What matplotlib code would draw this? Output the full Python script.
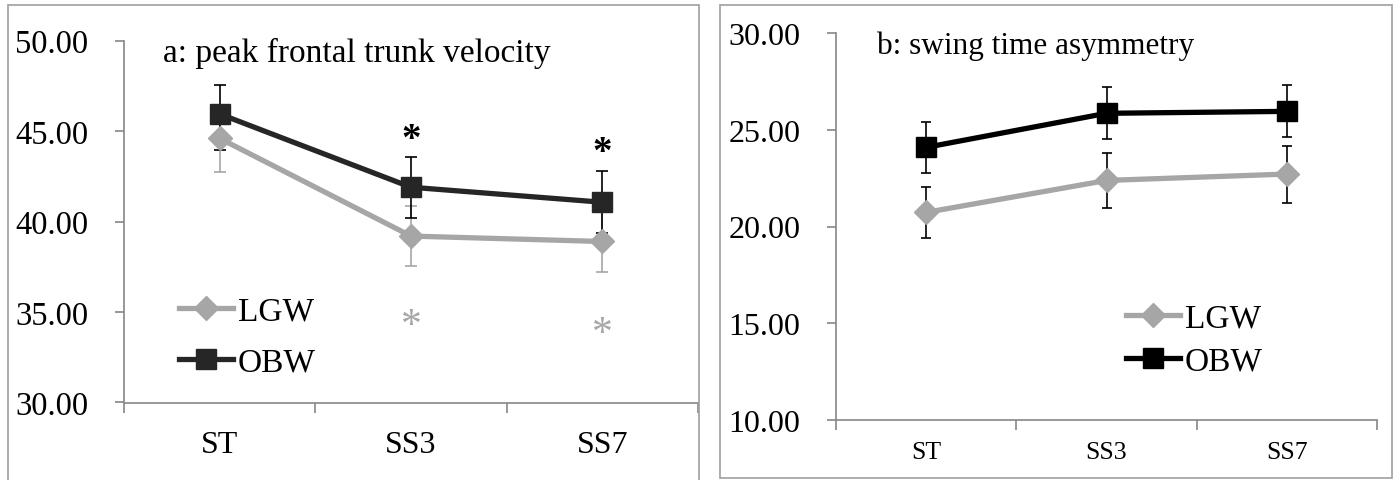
import matplotlib
matplotlib.use("Agg")
import matplotlib.pyplot as plt
from matplotlib.patches import Rectangle
from matplotlib.ticker import FixedLocator, FormatStrFormatter

plt.rcParams['font.family'] = ['Liberation Serif', 'DejaVu Serif']

# data
conditions = ['ST', 'SS3', 'SS7']

# a: peak frontal trunk velocity
a_lgw = [44.6, 39.2, 38.9]
a_lgw_err = [1.85, 1.67, 1.66]
a_obw = [45.95, 41.9, 41.07]
a_obw_err_lo = [2.0, 1.68, 1.72]
a_obw_err_hi = [1.6, 1.68, 1.72]
a_star_obw = [None, 45.1, 44.35]   # black asterisks
a_star_lgw = [None, 34.95, 34.5]   # grey asterisks

# b: swing time asymmetry
b_lgw = [20.73, 22.38, 22.71]
b_lgw_err = [1.33, 1.43, 1.47]
b_obw = [24.09, 25.85, 25.95]
b_obw_err = [1.33, 1.35, 1.35]

GREY = '#a6a6a6'
AXIS = '#868686'
W, H = 1398, 481

fig = plt.figure(figsize=(W / 100, H / 100), dpi=100)

# outer chart frames (pixel boxes of the two excel charts)
fig.patches.append(Rectangle((8 / W, -0.02), 690.5 / W, 1.02 - 6 / H, transform=fig.transFigure,
                             fill=False, edgecolor='#a0a0a0', lw=1.2))
fig.patches.append(Rectangle((720 / W, 1 - 479 / H), 672 / W, 473 / H, transform=fig.transFigure,
                             fill=False, edgecolor='#a0a0a0', lw=1.2))

ax1 = fig.add_axes([124 / W, 1 - 403.5 / H, 574 / W, 361.8 / H])
ax2 = fig.add_axes([836 / W, 1 - 421 / H, 541 / W, 387 / H])


def style_axes(ax, ylo, yhi, ytick_size, xtick_size, xpad):
    x = range(len(conditions))
    ax.set_xlim(-0.5, len(conditions) - 0.5)
    ax.set_ylim(ylo, yhi)
    ax.set_yticks(range(ylo, yhi + 1, 5))
    ax.yaxis.set_major_formatter(FormatStrFormatter('%.2f'))
    ax.set_xticks(list(x))
    ax.set_xticklabels(conditions)
    ax.xaxis.set_minor_locator(FixedLocator([i - 0.5 for i in range(len(conditions) + 1)]))
    ax.tick_params(axis='x', which='major', length=0, labelsize=xtick_size, pad=xpad)
    ax.tick_params(axis='x', which='minor', length=7, width=1.2, color=AXIS, direction='out')
    ax.tick_params(axis='y', length=6.5, width=1.2, color=AXIS, labelsize=ytick_size, pad=19)
    for s in ['top', 'right']:
        ax.spines[s].set_visible(False)
    for s in ['left', 'bottom']:
        ax.spines[s].set_color(AXIS)
        ax.spines[s].set_linewidth(1.2)
    ax.patch.set_alpha(0)


x = list(range(len(conditions)))

# panel a
ax1.errorbar(x, a_lgw, yerr=a_lgw_err, fmt='none', ecolor=GREY, elinewidth=1.2, capsize=4, capthick=1.2, zorder=2)
ax1.errorbar(x, a_obw, yerr=[a_obw_err_lo, a_obw_err_hi], fmt='none', ecolor='black', elinewidth=1.2,
             capsize=4, capthick=1.2, zorder=2)
ax1.plot(x, a_lgw, color=GREY, lw=3.8, marker='D', markersize=12, zorder=3, label='LGW')
ax1.plot(x, a_obw, color='#262626', lw=3.8, marker='s', markersize=14, zorder=4, label='OBW')
for i, yv in enumerate(a_star_obw):
    if yv is not None:
        ax1.annotate('*', (i, yv), xytext=(0, -7), textcoords='offset points', ha='center', va='center',
                     fontsize=28, fontweight='bold', color='black')
for i, yv in enumerate(a_star_lgw):
    if yv is not None:
        ax1.annotate('*', (i, yv), xytext=(0, -9), textcoords='offset points', ha='center', va='center',
                     fontsize=30, color=GREY)
ax1.text(0.068, 0.968, 'a: peak frontal trunk velocity', transform=ax1.transAxes, fontsize=24,
         ha='left', va='center')
style_axes(ax1, 30, 50, 23.5, 23, 19.5)
ax1.legend(loc='upper left', bbox_to_anchor=(0.0958, 0.293), frameon=False, fontsize=24,
           handlelength=1.62, handletextpad=0.14, labelspacing=0.61, borderpad=0, borderaxespad=0)

# panel b
ax2.errorbar(x, b_lgw, yerr=b_lgw_err, fmt='none', ecolor='black', elinewidth=1.2, capsize=3.3, capthick=1.2, zorder=2)
ax2.errorbar(x, b_obw, yerr=b_obw_err, fmt='none', ecolor='black', elinewidth=1.2, capsize=3.3, capthick=1.2, zorder=2)
ax2.plot(x, b_lgw, color=GREY, lw=3.8, marker='D', markersize=12, zorder=3, label='LGW')
ax2.plot(x, b_obw, color='black', lw=3.8, marker='s', markersize=14, zorder=4, label='OBW')
ax2.text(0.0758, 0.968, 'b: swing time asymmetry', transform=ax2.transAxes, fontsize=22.5,
         ha='left', va='center')
style_axes(ax2, 10, 30, 23, 18.5, 15)
ax2.legend(loc='upper left', bbox_to_anchor=(0.536, 0.302), frameon=False, fontsize=24,
           handlelength=1.62, handletextpad=0.14, labelspacing=0.37, borderpad=0, borderaxespad=0)

fig.savefig('out.png', dpi=100)
